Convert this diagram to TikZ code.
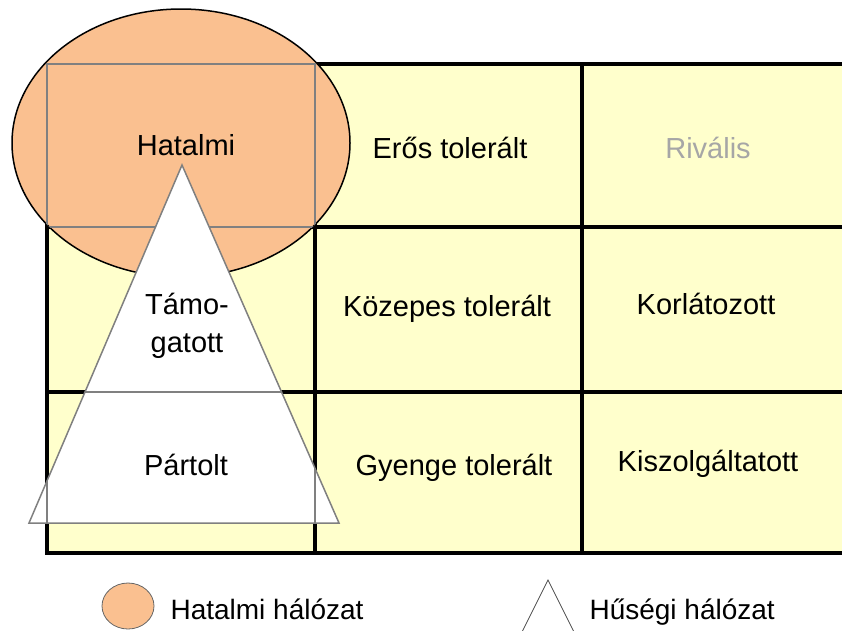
\documentclass[tikz,border=0pt]{standalone}
\usepackage{fontspec}
\setmainfont{Liberation Sans}
\usepackage{xcolor}
\usepackage{tikz}

\definecolor{cellyellow}{HTML}{FFFFCC}
\definecolor{powerorange}{HTML}{FAC090}
\definecolor{gridgray}{HTML}{808080}
\definecolor{rivalgray}{HTML}{A6A6A6}

\begin{document}
\begin{tikzpicture}[x=1pt,y=-1pt,line cap=rect,
  lbl/.style={anchor=base,font=\fontsize{29}{34}\selectfont},
  leg/.style={anchor=base west,font=\fontsize{28}{34}\selectfont}]
\useasboundingbox (0,0) rectangle (842,630);
\clip (0,0) rectangle (842,630);

\fill[cellyellow] (47,64) rectangle (860,553);

\foreach \y in {64,227,392,553}{
\draw[line width=3.5] (47,\y)--(860,\y);
}
\foreach \x in {47,315,582}{
\draw[line width=3.5] (\x,64)--(\x,553);
}

\begin{scope}
\draw[fill=powerorange,line width=1.5] (181,143) ellipse (169 and 134);
\clip (181,143) ellipse (169 and 134);
\draw[gridgray,line width=1.5] (47,64) rectangle (315,227);
\end{scope}

\begin{scope}
\draw[fill=white,draw=gridgray,line width=1.5] (182,165)--(339,523)--(29,523)--cycle;
\clip (182,165)--(339,523)--(29,523)--cycle;
\draw[gridgray,line width=1.5] (0,392)--(400,392) (47,392)--(47,553) (315,392)--(315,553);
\end{scope}

\node[lbl] (hatalmi) at (186,155) {Hatalmi};
\node[lbl] (eros) at (450,158) {Erős tolerált};
\node[lbl,text=rivalgray] (rivalis) at (708,158) {Rivális};
\node[lbl,align=center] (tamo) at (187,352) {Támo-\\[4pt]gatott};
\node[lbl] (kozepes) at (447,316) {Közepes tolerált};
\node[lbl] (korlat) at (706,314) {Korlátozott};
\node[lbl] (partolt) at (186,475) {Pártolt};
\node[lbl] (gyenge) at (454,475) {Gyenge tolerált};
\node[lbl] (kiszolg) at (708,471) {Kiszolgáltatott};

% jelmagyarazat
\draw[fill=powerorange,draw=black!60,line width=0.8] (128,606) ellipse (26 and 23);
\node[leg] (hatleg) at (167,619) {Hatalmi hálózat};
\draw[black!70,line width=0.8] (548,580)--(579,642)--(517,642)--cycle;
\node[leg] (husegleg) at (586,619) {Hűségi hálózat};
\end{tikzpicture}
\end{document}
